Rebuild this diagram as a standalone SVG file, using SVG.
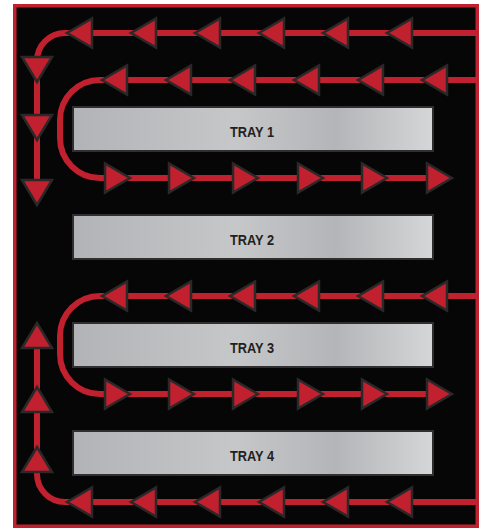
<svg xmlns="http://www.w3.org/2000/svg" xmlns:xlink="http://www.w3.org/1999/xlink" width="485" height="529" viewBox="0 0 485 529">
<defs>
<linearGradient id="tg" x1="0" y1="0" x2="1" y2="0">
<stop offset="0" stop-color="#b1b3b6"/>
<stop offset="0.45" stop-color="#c6c7c9"/>
<stop offset="0.73" stop-color="#b4b5b8"/>
<stop offset="1" stop-color="#d5d6d8"/>
</linearGradient>
<polygon id="aL" points="0,0 25,-14.5 25,14.5"/>
<polygon id="aR" points="0,0 -25,-14.5 -25,14.5"/>
<polygon id="aD" points="0,0 -15,-25 15,-25"/>
<polygon id="aU" points="0,0 -15,25 15,25"/>
</defs>
<style>
.line{fill:none;stroke:#c1202e;stroke-width:6}
.arr use{fill:#c1202e;stroke:#2a2829;stroke-width:2.5;stroke-linejoin:miter}
.tray rect{fill:url(#tg);stroke:#302e2f;stroke-width:2}
.tray text{font-family:"Liberation Sans",Arial,sans-serif;font-weight:bold;font-size:14px;fill:#231f20;text-anchor:middle}
</style>
<rect x="14.75" y="5.75" width="462.5" height="520.5" fill="#060606" stroke="#c1202e" stroke-width="3.5"/>
<g id="connectors">
<path class="line" d="M477,33 H65 A28,28 0 0 0 37,61 V190"/>
<path class="line" d="M477,80 H100 A40,40 0 0 0 60,120 V138 A40,40 0 0 0 100,178 H440"/>
<path class="line" d="M477,296 H100 A40,40 0 0 0 60,336 V354 A40,40 0 0 0 100,394 H440"/>
<path class="line" d="M477,502 H65 A28,28 0 0 1 37,474 V335"/>
<g class="arr">
<use xlink:href="#aL" x="67" y="33"/><use xlink:href="#aL" x="131" y="33"/><use xlink:href="#aL" x="195" y="33"/><use xlink:href="#aL" x="259" y="33"/><use xlink:href="#aL" x="323" y="33"/><use xlink:href="#aL" x="387" y="33"/>
<use xlink:href="#aL" x="102" y="80"/><use xlink:href="#aL" x="166" y="80"/><use xlink:href="#aL" x="230" y="80"/><use xlink:href="#aL" x="294" y="80"/><use xlink:href="#aL" x="358" y="80"/><use xlink:href="#aL" x="422" y="80"/>
<use xlink:href="#aR" x="130" y="178"/><use xlink:href="#aR" x="194" y="178"/><use xlink:href="#aR" x="258" y="178"/><use xlink:href="#aR" x="323" y="178"/><use xlink:href="#aR" x="387" y="178"/><use xlink:href="#aR" x="452" y="178"/>
<use xlink:href="#aL" x="102" y="296"/><use xlink:href="#aL" x="166" y="296"/><use xlink:href="#aL" x="230" y="296"/><use xlink:href="#aL" x="294" y="296"/><use xlink:href="#aL" x="358" y="296"/><use xlink:href="#aL" x="422" y="296"/>
<use xlink:href="#aR" x="130" y="394"/><use xlink:href="#aR" x="194" y="394"/><use xlink:href="#aR" x="258" y="394"/><use xlink:href="#aR" x="323" y="394"/><use xlink:href="#aR" x="387" y="394"/><use xlink:href="#aR" x="452" y="394"/>
<use xlink:href="#aL" x="67" y="502"/><use xlink:href="#aL" x="131" y="502"/><use xlink:href="#aL" x="195" y="502"/><use xlink:href="#aL" x="259" y="502"/><use xlink:href="#aL" x="323" y="502"/><use xlink:href="#aL" x="387" y="502"/>
<use xlink:href="#aD" x="37" y="82"/><use xlink:href="#aD" x="37" y="140"/><use xlink:href="#aD" x="37" y="205"/>
<use xlink:href="#aU" x="37" y="323"/><use xlink:href="#aU" x="37" y="387"/><use xlink:href="#aU" x="37" y="447"/>
</g>
</g>
<g id="tray1" class="tray"><rect x="73" y="107" width="360" height="44"/><text x="252" y="137" textLength="44" lengthAdjust="spacingAndGlyphs">TRAY 1</text></g>
<g id="tray2" class="tray"><rect x="73" y="215" width="360" height="44"/><text x="252" y="245" textLength="44" lengthAdjust="spacingAndGlyphs">TRAY 2</text></g>
<g id="tray3" class="tray"><rect x="73" y="323" width="360" height="44"/><text x="252" y="353" textLength="44" lengthAdjust="spacingAndGlyphs">TRAY 3</text></g>
<g id="tray4" class="tray"><rect x="73" y="431" width="360" height="44"/><text x="252" y="461" textLength="44" lengthAdjust="spacingAndGlyphs">TRAY 4</text></g>
</svg>
